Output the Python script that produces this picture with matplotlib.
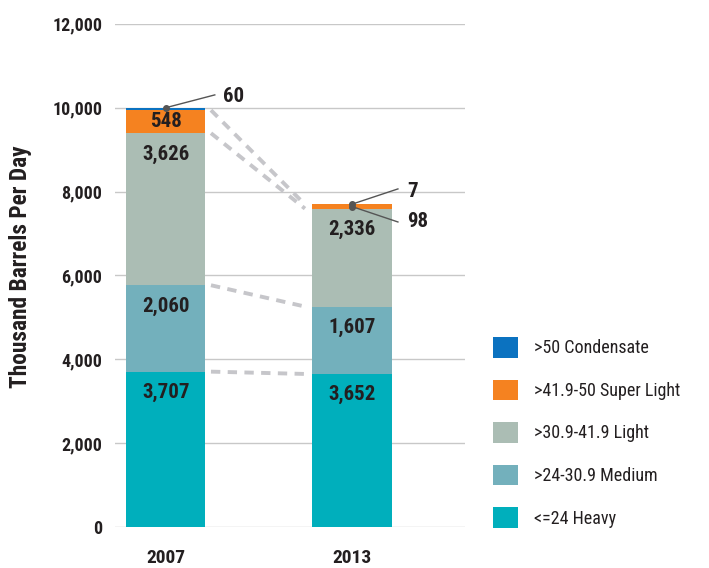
import matplotlib.pyplot as plt
import numpy as np

years = ["2007", "2013"]
categories = ["<=24 Heavy", ">24-30.9 Medium", ">30.9-41.9 Light",
              ">41.9-50 Super Light", ">50 Condensate"]
heavy = [3707, 3652]
medium = [2060, 1607]
light = [3626, 2336]
super_light = [548, 98]
condensate = [60, 7]
colors = ["#00AFBC", "#73B0BC", "#ABBDB4", "#F58220", "#0B72C0"]
yticks = [0, 2000, 4000, 6000, 8000, 10000, 12000]

plt.rcParams["font.family"] = ["Roboto Condensed", "Liberation Sans", "DejaVu Sans"]
TXT = "#231F20"

series = [heavy, medium, light, super_light, condensate]
x = np.arange(len(years))
width = 0.425

fig = plt.figure(figsize=(7.09, 5.68), dpi=100)
ax = fig.add_axes([0.162, 0.072, 0.494, 0.886])

bottom = np.zeros(len(years))
bars = []
tops = []
for vals, col, lab in zip(series, colors, categories):
    b = ax.bar(x, vals, width, bottom=bottom, color=col, label=lab, zorder=2)
    bars.append(b)
    bottom = bottom + np.array(vals)
    tops.append(bottom.copy())

# value labels inside the bars (heavy, medium, light just under the segment top)
for i in range(len(years)):
    for k in range(3):
        ax.text(x[i], tops[k][i] - 500, f"{series[k][i]:,}", ha="center", va="center",
                fontsize=15, fontweight="bold", color=TXT, zorder=3)
# super light 2007 in the middle of its segment
ax.text(x[0], tops[2][0] + super_light[0] / 2, f"{super_light[0]:,}", ha="center",
        va="center", fontsize=15, fontweight="bold", color=TXT, zorder=3)

# dashed connectors between segment tops
for k in [0, 1, 2, 3]:
    ax.plot([x[0] + width / 2 + 0.03, x[1] - width / 2 - 0.04], [tops[k][0], tops[k][1]],
            color="#C6C6CA", lw=2.8, ls=(0, (2.4, 1.9)), zorder=1)

# call-outs for the small segments
def callout(px, py, lx, ly, tx, ty, text):
    ax.plot([px, lx], [py, ly], color="#555555", lw=1, zorder=4)
    ax.plot(px, py, "o", color="#555555", ms=4, zorder=5)
    ax.text(tx, ty, text, ha="left", va="center", fontsize=15, fontweight="bold",
            color=TXT)

callout(x[0], tops[4][0], 0.263, 10306, 0.306, 10258, f"{condensate[0]}")
callout(x[1], tops[4][1], 1.247, 8064, 1.296, 7992, f"{condensate[1]}")
callout(x[1], tops[2][1] + super_light[1] / 2, 1.247, 7276, 1.296, 7276, f"{super_light[1]}")

ax.set_xlim(-0.274, 1.608)
ax.set_ylim(0, 12000)
ax.set_yticks(yticks)
ax.set_yticklabels([f"{v:,}" for v in yticks])
ax.set_xticks(x)
ax.set_xticklabels(years)
ax.grid(axis="y", color="#C8C8C8", lw=1, zorder=0)
ax.set_axisbelow(True)
for s in ax.spines.values():
    s.set_visible(False)
ax.tick_params(axis="y", length=0, pad=9, labelsize=13, labelcolor=TXT)
ax.tick_params(axis="x", length=0, pad=16, labelsize=14, labelcolor=TXT)
for t in ax.get_xticklabels() + ax.get_yticklabels():
    t.set_fontweight("bold")

ax.set_ylabel("Thousand Barrels Per Day", fontsize=16.8, fontweight="bold", color=TXT)
ax.yaxis.set_label_coords(-0.237, 0.517)

handles = [b[0] for b in bars][::-1]
labels = categories[::-1]
ax.legend(handles, labels, loc="upper left", bbox_to_anchor=(493 / 709, 1 - 337 / 568),
          bbox_transform=fig.transFigure, frameon=False, fontsize=13,
          handlelength=1.4, handleheight=1.4, handletextpad=0.85, labelspacing=1.2,
          borderpad=0, borderaxespad=0, labelcolor=TXT)

fig.savefig("out.png", dpi=100)
